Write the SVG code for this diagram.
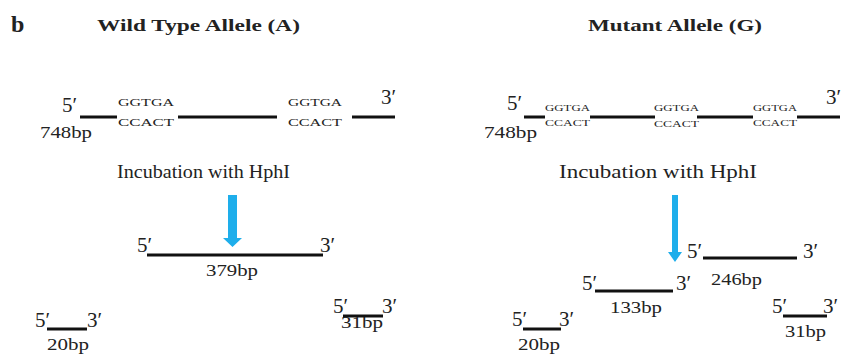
<svg xmlns="http://www.w3.org/2000/svg" width="843" height="356" viewBox="0 0 843 356">
<style>
.t{font-weight:bold;font-size:16px}
.p{font-size:21px}
.s{font-size:11px}
.xs{font-size:9px}
.bp{font-size:17px}
.inc{font-size:19px}
.ln{stroke:#111;stroke-width:3;fill:none}
.arr{fill:#1eaeeb}
</style>
<rect width="843" height="356" fill="#fff"/>
<g font-family="Liberation Serif, DejaVu Serif, serif" fill="#222" lengthAdjust="spacingAndGlyphs">
<text x="11" y="32" font-weight="bold" font-size="24">b</text>
<text class="t" x="97" y="31" textLength="203" lengthAdjust="spacingAndGlyphs">Wild Type Allele (A)</text>
<text class="t" x="588" y="31" textLength="174" lengthAdjust="spacingAndGlyphs">Mutant Allele (G)</text>

<g id="wt-full">
<text class="p" x="62" y="112">5′</text>
<text class="p" x="381" y="104">3′</text>
<text class="s" x="118" y="106" textLength="56" lengthAdjust="spacingAndGlyphs">GGTGA</text>
<text class="s" x="118" y="126" textLength="56" lengthAdjust="spacingAndGlyphs">CCACT</text>
<text class="s" x="288" y="106" textLength="54" lengthAdjust="spacingAndGlyphs">GGTGA</text>
<text class="s" x="288" y="126" textLength="54" lengthAdjust="spacingAndGlyphs">CCACT</text>
<text class="bp" x="40" y="138" textLength="52" lengthAdjust="spacingAndGlyphs">748bp</text>
</g>
<g id="wt-inc"><text class="inc" x="117" y="178" textLength="173" lengthAdjust="spacingAndGlyphs">Incubation with HphI</text></g>
<g id="wt-379">
<text class="p" x="137" y="252">5′</text>
<text class="p" x="320" y="252">3′</text>
<text class="bp" x="206" y="276" textLength="52" lengthAdjust="spacingAndGlyphs">379bp</text>
</g>
<g id="wt-20">
<text class="p" x="35" y="327">5′</text>
<text class="p" x="87" y="327">3′</text>
<text class="bp" x="47" y="350" textLength="42" lengthAdjust="spacingAndGlyphs">20bp</text>
</g>
<g id="wt-31">
<text class="p" x="333" y="313">5′</text>
<text class="p" x="382" y="313">3′</text>
<text class="bp" x="341" y="328" textLength="42" lengthAdjust="spacingAndGlyphs">31bp</text>
</g>

<g id="mut-full">
<text class="p" x="507" y="110">5′</text>
<text class="p" x="826" y="104">3′</text>
<text class="xs" x="545" y="111" textLength="45" lengthAdjust="spacingAndGlyphs">GGTGA</text>
<text class="xs" x="545" y="126" textLength="45" lengthAdjust="spacingAndGlyphs">CCACT</text>
<text class="xs" x="654" y="111" textLength="45" lengthAdjust="spacingAndGlyphs">GGTGA</text>
<text class="xs" x="654" y="127" textLength="45" lengthAdjust="spacingAndGlyphs">CCACT</text>
<text class="xs" x="753" y="111" textLength="44" lengthAdjust="spacingAndGlyphs">GGTGA</text>
<text class="xs" x="753" y="126" textLength="44" lengthAdjust="spacingAndGlyphs">CCACT</text>
<text class="bp" x="484" y="138" textLength="53" lengthAdjust="spacingAndGlyphs">748bp</text>
</g>
<g id="mut-inc"><text class="inc" x="559" y="178" textLength="198" lengthAdjust="spacingAndGlyphs">Incubation with HphI</text></g>
<g id="mut-246">
<text class="p" x="687" y="258">5′</text>
<text class="p" x="803" y="258">3′</text>
<text class="bp" x="711" y="285" textLength="51" lengthAdjust="spacingAndGlyphs">246bp</text>
</g>
<g id="mut-133">
<text class="p" x="582" y="290">5′</text>
<text class="p" x="676" y="290">3′</text>
<text class="bp" x="610" y="313" textLength="52" lengthAdjust="spacingAndGlyphs">133bp</text>
</g>
<g id="mut-20">
<text class="p" x="512" y="326">5′</text>
<text class="p" x="559" y="326">3′</text>
<text class="bp" x="518" y="350" textLength="42" lengthAdjust="spacingAndGlyphs">20bp</text>
</g>
<g id="mut-31">
<text class="p" x="772" y="313">5′</text>
<text class="p" x="823" y="313">3′</text>
<text class="bp" x="785" y="337" textLength="41" lengthAdjust="spacingAndGlyphs">31bp</text>
</g>
</g>

<g id="connectors">
<path class="ln" d="M80 117H117M178 117H277M352 117H395"/>
<path class="ln" d="M147 255H323"/>
<path class="ln" d="M47 329H87"/>
<path class="ln" d="M343 316H383"/>
<path class="ln" d="M524 117H545M590 117H655M697 117H753M797 117H840"/>
<path class="ln" d="M703 258H797"/>
<path class="ln" d="M595 291H673"/>
<path class="ln" d="M523 329H561"/>
<path class="ln" d="M783 316H827"/>
<polygon class="arr" points="228,195 237,195 237,238 242,238 232.5,247 223,238 228,238"/>
<polygon class="arr" points="672,195 678,195 678,252 682,252 675,262 668,252 672,252"/>
</g>
</svg>
